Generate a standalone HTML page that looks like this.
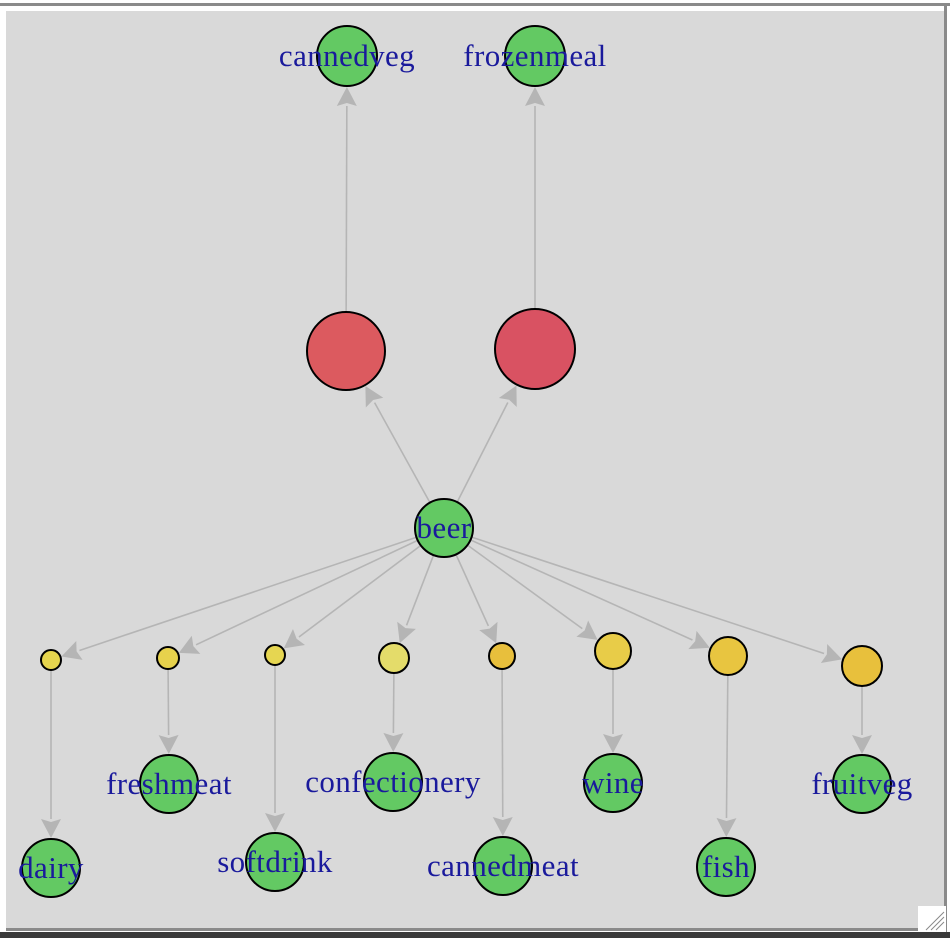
<!DOCTYPE html>
<html><head><meta charset="utf-8">
<style>
html,body{margin:0;padding:0;background:#222;}
svg{display:block;}
text{font-family:"Liberation Serif",serif;}
</style></head>
<body>
<svg id="chart" width="950" height="938" xmlns="http://www.w3.org/2000/svg">
  <rect x="0" y="0" width="950" height="938" fill="#3a3a3a"/>
  <rect x="0" y="0" width="950" height="932" fill="#ffffff"/>
  <rect x="0" y="3" width="950" height="3" fill="#8a8a8a"/>
  <rect x="6" y="11" width="938" height="917" fill="#d9d9d9"/>
  <rect x="944" y="6" width="3" height="926" fill="#8a8a8a"/>
  <rect x="6" y="928" width="941" height="3" fill="#8a8a8a"/>
  <g>
    <rect x="918" y="906" width="28" height="26" fill="#ffffff"/>
    <line x1="926" y1="930" x2="944" y2="912" stroke="#888" stroke-width="1"/>
    <line x1="931" y1="930" x2="944" y2="917" stroke="#888" stroke-width="1"/>
    <line x1="936" y1="930" x2="944" y2="922" stroke="#888" stroke-width="1"/>
  </g>
  <g id="edges"></g>
  <g id="nodes"></g>
</svg>
<script>
// node layout (pixel-space layout coordinates), radii, fill, labels
const nodeNames = ["cannedveg","frozenmeal","rule1","rule2","beer","r3","r4","r5","r6","r7","r8","r9","r10","dairy","freshmeat","softdrink","confectionery","cannedmeat","wine","fish","fruitveg"];
const nodeX = [347,535,346,535,444,51,168,275,394,502,613,728,862,51,169,275,393,503,613,726,862];
const nodeY = [56,56,351,349,528,660,658,655,658,656,651,656,666,868,784,862,782,866,783,867,784];
const nodeR = [30,30,39,40,29,10,11,10,15,13,18,19,20,29,29,29,29,29,29,29,29];
const nodeFill = ["#63c963","#63c963","#dc5a5f","#d95262","#63c963","#e6d54e","#e7d24c","#e6d651","#e4dc6a","#e8bf3c","#e8cc48","#e8c540","#e8c03c","#63c963","#63c963","#63c963","#63c963","#63c963","#63c963","#63c963","#63c963"];
const nodeLabel = ["cannedveg","frozenmeal","","","beer","","","","","","","","","dairy","freshmeat","softdrink","confectionery","cannedmeat","wine","fish","fruitveg"];
const edgeFrom = [4,4,2,3,4,4,4,4,4,4,4,4,5,6,7,8,9,10,11,12];
const edgeTo   = [2,3,0,1,5,6,7,8,9,10,11,12,13,14,15,16,17,18,19,20];

const NS="http://www.w3.org/2000/svg";
const eg=document.getElementById('edges'), ng=document.getElementById('nodes');
for(let i=0;i<edgeFrom.length;i++){
  const a=edgeFrom[i], b=edgeTo[i];
  const x1=nodeX[a], y1=nodeY[a], x2=nodeX[b], y2=nodeY[b];
  const dx=x2-x1, dy=y2-y1, L=Math.hypot(dx,dy), ux=dx/L, uy=dy/L;
  const tx=x2-ux*(nodeR[b]+1), ty=y2-uy*(nodeR[b]+1);
  const hl=19, hw=10;
  const bx=tx-ux*hl, by=ty-uy*hl;
  const line=document.createElementNS(NS,'line');
  
  
  line.setAttribute('x1',x1);line.setAttribute('y1',y1);
  line.setAttribute('x2',bx);line.setAttribute('y2',by);
  line.setAttribute('stroke','#b5b5b5');line.setAttribute('stroke-width','1.6');
  eg.appendChild(line);
  const head=document.createElementNS(NS,'polygon');
  
  
  head.setAttribute('points',`${tx},${ty} ${bx-uy*hw},${by+ux*hw} ${bx+ux*3},${by+uy*3} ${bx+uy*hw},${by-ux*hw}`);
  head.setAttribute('fill','#b5b5b5');
  eg.appendChild(head);
}
for(let i=0;i<nodeNames.length;i++){
  const c=document.createElementNS(NS,'circle');
  
  
  c.setAttribute('cx',nodeX[i]);c.setAttribute('cy',nodeY[i]);c.setAttribute('r',nodeR[i]);
  c.setAttribute('fill',nodeFill[i]);c.setAttribute('stroke','#000');c.setAttribute('stroke-width','2');
  ng.appendChild(c);
}
for(let i=0;i<nodeNames.length;i++){
  if(!nodeLabel[i]) continue;
  const t=document.createElementNS(NS,'text');
  
  
  t.setAttribute('x',nodeX[i]);t.setAttribute('y',nodeY[i]+10);
  t.setAttribute('text-anchor','middle');t.setAttribute('font-size','31');
  t.setAttribute('letter-spacing','0.4');
  t.setAttribute('fill','#1a1a9c');
  t.textContent=nodeLabel[i];
  ng.appendChild(t);
}
</script>
</body></html>
